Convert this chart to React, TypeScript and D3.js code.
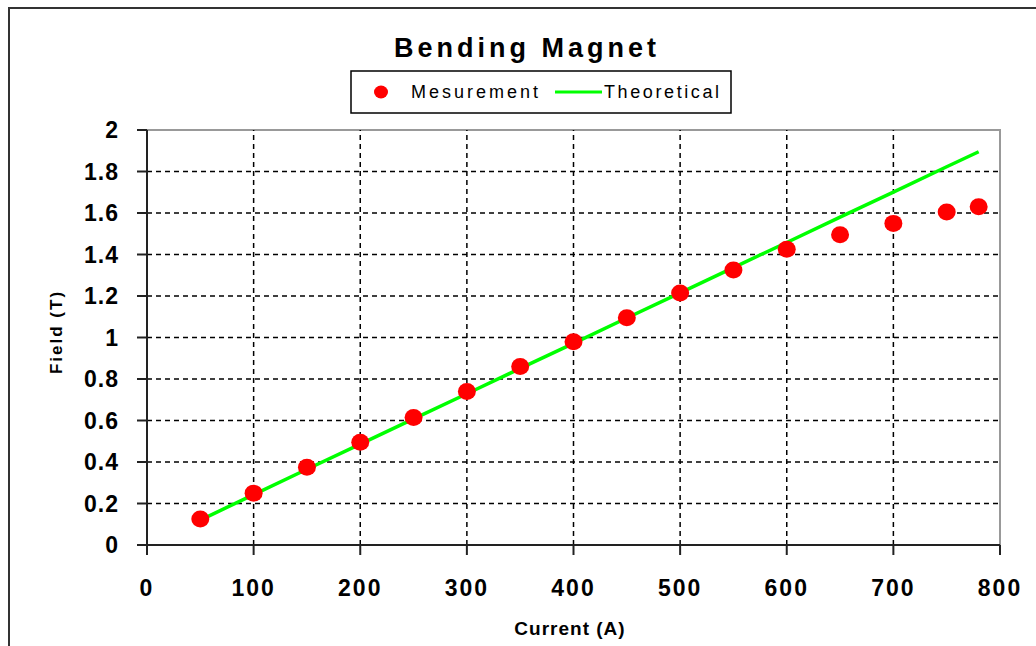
import { useRef, useEffect } from "react";
import { select, scaleLinear, line } from "d3";

const currents = [50, 100, 150, 200, 250, 300, 350, 400, 450, 500, 550, 600, 650, 700, 750, 780];
const measured = [0.125, 0.25, 0.375, 0.495, 0.615, 0.74, 0.86, 0.98, 1.095, 1.215, 1.325, 1.425, 1.495, 1.55, 1.605, 1.63];
const theoretical = [0.12, 0.243, 0.365, 0.486, 0.608, 0.729, 0.851, 0.972, 1.094, 1.215, 1.337, 1.458, 1.58, 1.701, 1.823, 1.895];
const xTicks = [0, 100, 200, 300, 400, 500, 600, 700, 800];
const yTicks = [0, 0.2, 0.4, 0.6, 0.8, 1, 1.2, 1.4, 1.6, 1.8, 2];

const W = 1036;
const H = 646;
const FONT = "Liberation Sans, Arial, sans-serif";

export default function App() {
  const svgRef = useRef<SVGSVGElement>(null);

  useEffect(() => {
    const svg = select(svgRef.current);
    svg.selectAll("*").remove();

    const x = scaleLinear().domain([0, 800]).range([147, 1000]);
    const y = scaleLinear().domain([0, 2]).range([545, 130]);

    // outer frame
    svg.append("rect")
      .attr("x", 9).attr("y", 8).attr("width", W + 20).attr("height", H + 20)
      .attr("fill", "white").attr("stroke", "#333").attr("stroke-width", 2);

    // plot area border (top/right gray)
    svg.append("rect")
      .attr("x", x(0)).attr("y", y(2)).attr("width", x(800) - x(0)).attr("height", y(0) - y(2))
      .attr("fill", "white").attr("stroke", "#999").attr("stroke-width", 2);

    // grid
    const grid = svg.append("g").attr("stroke", "#000").attr("stroke-width", 1.5).attr("stroke-dasharray", "5,4");
    grid.selectAll(".hg").data(yTicks.filter((d) => d > 0 && d < 2)).join("line")
      .attr("x1", x(0)).attr("x2", x(800)).attr("y1", (d) => y(d)).attr("y2", (d) => y(d));
    grid.selectAll(".vg").data(xTicks.filter((d) => d > 0 && d < 800)).join("line")
      .attr("y1", y(0)).attr("y2", y(2)).attr("x1", (d) => x(d)).attr("x2", (d) => x(d));

    // axes
    const ax = svg.append("g").attr("stroke", "#222").attr("stroke-width", 2);
    ax.append("line").attr("x1", x(0)).attr("x2", x(0)).attr("y1", y(0)).attr("y2", y(2));
    ax.append("line").attr("x1", x(0)).attr("x2", x(800)).attr("y1", y(0)).attr("y2", y(0));
    ax.selectAll(".yt").data(yTicks).join("line")
      .attr("x1", x(0) - 10).attr("x2", x(0)).attr("y1", (d) => y(d)).attr("y2", (d) => y(d));
    ax.selectAll(".xt").data(xTicks).join("line")
      .attr("y1", y(0)).attr("y2", y(0) + 10).attr("x1", (d) => x(d)).attr("x2", (d) => x(d));

    svg.append("g").selectAll("text").data(yTicks).join("text")
      .attr("x", 119).attr("y", (d) => y(d)).attr("dy", "0.36em")
      .attr("text-anchor", "end").attr("font-family", FONT).attr("font-weight", "bold")
      .attr("font-size", 23).attr("letter-spacing", 1).text((d) => String(d));

    svg.append("g").selectAll("text").data(xTicks).join("text")
      .attr("x", (d) => x(d)).attr("y", 596)
      .attr("text-anchor", "middle").attr("font-family", FONT).attr("font-weight", "bold")
      .attr("font-size", 23).attr("letter-spacing", 2).text((d) => String(d));

    // theoretical line
    const pts = currents.map((c, i) => [x(c), y(theoretical[i])] as [number, number]);
    svg.append("path").attr("d", line()(pts)).attr("fill", "none")
      .attr("stroke", "#00ff00").attr("stroke-width", 3.5);

    // measurement points
    svg.append("g").selectAll("ellipse").data(currents).join("ellipse")
      .attr("cx", (d) => x(d)).attr("cy", (_, i) => y(measured[i]))
      .attr("rx", 9).attr("ry", 8.5).attr("fill", "#ff0000");

    // title
    svg.append("text").attr("x", 527).attr("y", 57).attr("text-anchor", "middle")
      .attr("font-family", FONT).attr("font-weight", "bold").attr("font-size", 27)
      .attr("letter-spacing", 4).text("Bending Magnet");

    // legend
    const lg = svg.append("g");
    lg.append("rect").attr("x", 351).attr("y", 71).attr("width", 380).attr("height", 42)
      .attr("fill", "white").attr("stroke", "#000").attr("stroke-width", 1.5);
    lg.append("ellipse").attr("cx", 381).attr("cy", 92).attr("rx", 7).attr("ry", 6.5).attr("fill", "#ff0000");
    lg.append("text").attr("x", 411).attr("y", 98).attr("font-family", FONT).attr("font-size", 18)
      .attr("letter-spacing", 3).text("Mesurement");
    lg.append("line").attr("x1", 555).attr("x2", 602).attr("y1", 92).attr("y2", 92)
      .attr("stroke", "#00ff00").attr("stroke-width", 3);
    lg.append("text").attr("x", 604).attr("y", 98).attr("font-family", FONT).attr("font-size", 18)
      .attr("letter-spacing", 2.6).text("Theoretical");

    // axis titles
    svg.append("text").attr("transform", "translate(62,332) rotate(-90)").attr("text-anchor", "middle")
      .attr("font-family", FONT).attr("font-weight", "bold").attr("font-size", 17)
      .attr("letter-spacing", 2).text("Field (T)");
    svg.append("text").attr("x", 570).attr("y", 635).attr("text-anchor", "middle")
      .attr("font-family", FONT).attr("font-weight", "bold").attr("font-size", 19)
      .attr("letter-spacing", 1).text("Current (A)");
  }, []);

  return (
    <svg ref={svgRef} width={W} height={H}
      style={{ position: "absolute", left: 0, top: 0, background: "white" }} />
  );
}
